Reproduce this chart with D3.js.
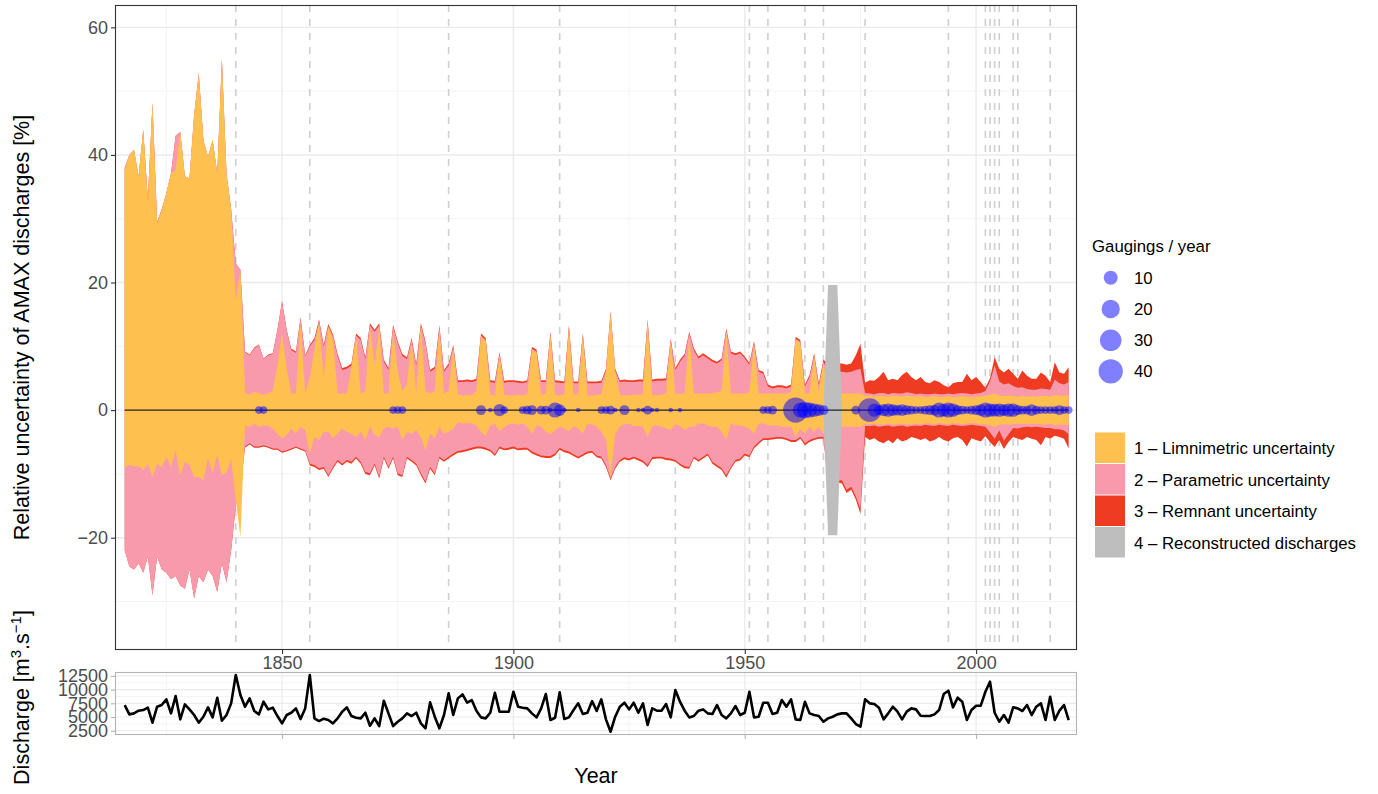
<!DOCTYPE html>
<html><head><meta charset="utf-8">
<script src="https://cdn.jsdelivr.net/npm/d3@7/dist/d3.min.js"></script>
<style>body{margin:0;background:#fff;} svg{display:block;font-family:"Liberation Sans",Arial,sans-serif;}</style>
</head><body><svg id="c" width="1378" height="794"></svg>
<script>
// ---------------- DATA (one value per year, 1816 .. 2020) ----------------
const firstYear = 1816;

const limUpper = [
 37.6, 40.0, 40.8, 36.6,
 43.9, 32.4, 48.1, 29.0, 31.3, 34.0, 37.1, 37.6, 43.6, 36.6,
 36.3, 46.2, 52.5, 42.3, 39.7, 42.3, 37.1, 54.9, 37.0, 31.3,
 17.2, 21.9, 2.7, 2.4, 2.9, 2.6, 2.4, 2.6, 3.0, 7.0,
 12.0, 6.5, 2.6, 2.6, 13.5, 2.6, 5.0, 9.5, 13.8, 5.0,
 13.1, 11.0, 2.6, 2.6, 2.6, 6.8, 11.5, 2.6, 3.0, 13.1,
 7.0, 13.1, 2.6, 2.6, 12.3, 6.0, 3.0, 4.0, 10.8, 2.6,
 13.1, 3.0, 2.6, 3.0, 12.8, 2.6, 3.0, 9.7, 2.4, 2.3,
 2.4, 2.3, 3.0, 11.5, 10.8, 2.4, 2.3, 8.6, 2.4, 2.3,
 2.3, 2.4, 2.3, 2.5, 9.4, 9.0, 2.4, 2.6, 11.8, 2.4,
 2.3, 2.5, 12.8, 2.4, 2.5, 11.5, 2.3, 2.3, 2.4, 2.5,
 6.0, 15.0, 6.0, 2.4, 2.3, 2.3, 2.4, 2.4, 2.5, 13.7,
 2.4, 2.3, 2.4, 2.6, 10.7, 2.5, 2.6, 2.6, 11.8, 2.6,
 2.6, 2.6, 2.6, 2.6, 2.8, 3.0, 12.3, 2.6, 2.6, 2.6,
 2.6, 2.8, 10.4, 2.6, 2.6, 2.6, 2.6, 2.6, 2.6, 2.6,
 2.8, 11.0, 10.5, 2.6, 2.6, 8.4, 2.8, 7.5, 2.6, 2.6,
 2.6, 2.6, 2.6, 2.6, 2.6, 2.6, 2.3, 2.2, 2.1, 2.3,
 2.2, 2.1, 2.3, 2.2, 2.1, 2.3, 2.2, 2.1, 2.2, 2.0,
 2.1, 2.2, 2.0, 2.1, 2.2, 2.0, 2.1, 2.2, 2.1, 2.0,
 2.1, 2.2, 2.2, 2.4, 2.6, 2.3, 2.2, 2.3, 2.2, 2.1,
 2.2, 2.1, 2.2, 2.1, 2.2, 2.3, 2.1, 2.4, 2.3, 2.2,
 2.4
];
const limLower = [
 -8.9, -8.6, -8.8, -8.8,
 -9.4, -8.4, -10.5, -8.4, -8.9, -7.3, -8.9, -6.3, -10.2, -8.1,
 -8.6, -10.5, -10.5, -11.0, -7.6, -9.9, -7.0, -10.2, -9.8, -7.6,
 -14.0, -19.9, -2.4, -2.6, -2.1, -2.6, -2.4, -2.4, -2.9, -3.7,
 -4.4, -3.9, -2.9, -3.7, -2.6, -3.1, -6.8, -4.2, -4.7, -3.4,
 -3.4, -4.4, -3.7, -2.9, -3.4, -3.7, -4.2, -3.4, -4.7, -2.6,
 -3.9, -4.2, -2.9, -2.6, -2.9, -2.6, -4.7, -3.4, -3.7, -3.1,
 -4.2, -6.3, -3.7, -4.4, -2.6, -3.7, -3.4, -2.9, -1.9, -2.1,
 -2.0, -2.1, -2.4, -3.4, -4.1, -2.4, -2.1, -3.3, -2.7, -2.2,
 -2.1, -2.3, -2.1, -2.6, -3.7, -2.4, -2.6, -3.4, -3.8, -3.1,
 -2.6, -2.9, -3.3, -2.5, -2.9, -3.7, -2.2, -2.2, -2.6, -3.4,
 -4.7, -10.4, -3.7, -2.6, -2.2, -2.1, -2.5, -2.5, -2.6, -4.2,
 -2.5, -2.4, -2.6, -2.9, -3.1, -2.2, -2.5, -3.1, -2.6, -2.6,
 -2.1, -2.1, -2.4, -2.6, -2.6, -3.4, -4.7, -2.1, -2.4, -2.4,
 -2.6, -2.9, -3.7, -2.1, -2.1, -2.4, -2.4, -2.4, -2.6, -2.6,
 -2.6, -4.2, -2.9, -3.7, -2.6, -3.4, -2.6, -3.7, -2.6, -2.6,
 -2.6, -2.6, -2.6, -2.6, -2.6, -2.6, -2.2, -2.2, -2.1, -2.3,
 -2.2, -2.1, -2.3, -2.2, -2.1, -2.3, -2.2, -2.1, -2.2, -2.0,
 -2.1, -2.2, -2.0, -2.1, -2.2, -2.0, -2.1, -2.2, -2.1, -2.0,
 -2.1, -2.2, -2.2, -2.4, -2.6, -2.3, -2.2, -2.3, -2.2, -2.1,
 -2.2, -2.1, -2.2, -2.1, -2.2, -2.3, -2.1, -2.4, -2.3, -2.2,
 -2.4
];
const parUpper = [
 38.0, 40.0, 40.8, 36.6,
 43.9, 33.0, 48.1, 29.5, 31.5, 34.0, 37.1, 43.0, 43.6, 36.6,
 36.3, 46.2, 52.8, 42.3, 39.7, 42.3, 37.1, 54.9, 37.0, 31.5,
 23.0, 22.0, 9.1, 8.6, 9.7, 10.2, 8.0, 8.6, 8.8, 12.5,
 17.0, 12.5, 9.4, 9.0, 14.4, 8.4, 10.0, 11.0, 13.9, 10.0,
 13.2, 11.6, 8.5, 6.3, 6.5, 7.0, 11.7, 11.0, 8.0, 13.3,
 12.3, 13.3, 7.6, 6.3, 13.1, 10.5, 8.5, 8.0, 11.0, 7.0,
 13.3, 10.5, 6.0, 6.5, 13.0, 6.0, 7.0, 9.9, 4.4, 4.4,
 4.5, 4.4, 4.6, 11.7, 11.0, 4.4, 4.3, 8.8, 4.3, 4.4,
 4.4, 4.3, 4.2, 4.4, 9.6, 9.2, 4.4, 4.4, 12.0, 4.4,
 4.3, 4.2, 13.0, 4.2, 4.2, 11.7, 4.2, 4.2, 4.2, 4.3,
 6.2, 15.2, 6.2, 4.4, 4.5, 4.4, 4.4, 4.5, 4.5, 13.9,
 4.5, 4.6, 4.6, 4.7, 10.9, 6.3, 7.6, 8.5, 12.0, 9.4,
 8.1, 8.6, 8.1, 7.6, 7.3, 7.8, 12.5, 8.9, 8.6, 8.9,
 8.1, 7.1, 10.5, 6.0, 5.7, 3.7, 3.4, 3.6, 3.6, 3.4,
 3.7, 11.2, 10.7, 3.7, 5.2, 8.6, 3.9, 7.6, 6.0, 6.0,
 6.0, 6.0, 5.9, 6.0, 6.3, 6.5, 2.7, 2.6, 2.5, 2.7,
 2.7, 2.5, 2.7, 2.6, 2.6, 2.8, 2.7, 2.5, 2.6, 2.5,
 2.5, 2.6, 2.5, 2.5, 2.6, 2.5, 2.6, 2.7, 2.6, 2.5,
 2.6, 2.7, 3.0, 4.5, 7.0, 4.5, 4.0, 4.2, 3.8, 3.5,
 3.6, 3.3, 3.2, 3.2, 3.4, 3.3, 3.2, 4.8, 4.2, 4.0,
 4.4
];
const parLower = [
 -22.0, -24.5, -25.0, -24.0,
 -25.5, -23.0, -29.0, -23.0, -25.0, -25.5, -26.5, -26.0, -27.5, -28.0,
 -25.0, -29.5, -26.0, -27.0, -25.0, -26.0, -28.5, -24.0, -27.0, -22.0,
 -15.0, -12.0, -5.7, -5.2, -5.7, -5.7, -5.5, -5.7, -6.0, -6.0,
 -6.5, -6.3, -6.0, -5.7, -6.0, -6.3, -8.4, -8.6, -9.1, -8.9,
 -10.2, -8.9, -7.8, -8.4, -7.8, -8.1, -7.3, -8.1, -9.7, -9.9,
 -8.4, -10.4, -7.3, -8.9, -7.3, -9.9, -10.2, -7.3, -7.8, -8.4,
 -9.9, -11.2, -8.9, -9.9, -7.3, -7.8, -7.3, -6.8, -6.4, -6.3,
 -6.1, -5.9, -5.7, -5.7, -5.9, -6.2, -6.9, -5.7, -6.0, -5.9,
 -5.7, -6.0, -5.9, -5.9, -6.5, -6.8, -7.1, -7.2, -7.2, -6.8,
 -5.9, -6.3, -6.5, -6.9, -7.3, -6.9, -6.5, -6.4, -7.1, -7.3,
 -8.6, -10.7, -8.9, -7.8, -7.4, -7.6, -7.3, -7.6, -7.9, -8.6,
 -7.4, -7.3, -7.3, -7.5, -7.6, -7.8, -8.4, -8.8, -8.9, -7.3,
 -7.8, -7.3, -6.8, -8.1, -8.6, -9.1, -10.2, -8.9, -7.8, -7.6,
 -6.8, -7.1, -5.7, -5.0, -4.4, -4.4, -4.3, -4.2, -4.2, -4.4,
 -4.7, -4.7, -4.2, -5.2, -4.7, -4.4, -4.2, -4.2, -11.0, -11.0,
 -11.0, -11.0, -12.5, -12.0, -13.5, -15.5, -2.5, -2.5, -2.4, -2.6,
 -2.5, -2.4, -2.6, -2.5, -2.4, -2.6, -2.5, -2.4, -2.5, -2.3,
 -2.4, -2.5, -2.3, -2.4, -2.5, -2.3, -2.4, -2.5, -2.4, -2.3,
 -2.4, -2.5, -2.6, -3.5, -4.5, -3.2, -4.8, -3.8, -2.8, -2.9,
 -2.7, -2.6, -2.7, -2.6, -2.7, -2.8, -2.8, -3.0, -3.0, -3.2,
 -3.8
];
const remUpper = [
 38.0, 40.0, 40.8, 36.6,
 43.9, 33.0, 48.1, 29.5, 31.5, 34.0, 37.1, 43.0, 43.6, 36.6,
 36.3, 46.2, 52.8, 42.3, 39.7, 42.3, 37.1, 54.9, 37.0, 31.5,
 23.0, 22.0, 9.2, 8.7, 9.8, 10.3, 8.1, 8.7, 8.9, 12.6,
 17.1, 12.6, 9.6, 9.2, 14.6, 8.6, 10.2, 11.3, 14.2, 10.3,
 13.5, 11.9, 8.8, 6.6, 6.8, 7.3, 12.0, 11.3, 8.3, 13.6,
 12.6, 13.6, 7.9, 6.6, 13.4, 10.8, 8.8, 8.3, 11.3, 7.3,
 13.6, 10.8, 6.3, 6.8, 13.3, 6.3, 7.3, 10.2, 4.7, 4.7,
 4.8, 4.7, 4.9, 12.0, 11.3, 4.7, 4.6, 9.1, 4.6, 4.7,
 4.7, 4.6, 4.5, 4.7, 9.9, 9.5, 4.7, 4.7, 12.3, 4.7,
 4.6, 4.5, 13.3, 4.5, 4.5, 12.0, 4.5, 4.5, 4.5, 4.6,
 6.5, 15.5, 6.5, 4.7, 4.8, 4.7, 4.7, 4.8, 4.8, 14.2,
 4.8, 4.9, 4.9, 5.0, 11.2, 6.6, 7.9, 8.8, 12.3, 9.7,
 8.4, 8.9, 8.4, 7.9, 7.6, 8.1, 12.8, 9.2, 8.9, 9.2,
 8.4, 7.4, 10.8, 6.3, 6.0, 4.0, 3.7, 3.9, 3.9, 3.7,
 4.0, 11.5, 11.0, 4.0, 5.5, 8.9, 4.2, 7.9, 7.3, 7.3,
 7.3, 7.3, 7.1, 7.3, 8.6, 10.4, 4.3, 4.7, 4.6, 5.2,
 6.0, 4.7, 4.9, 4.7, 5.5, 6.0, 5.2, 4.7, 5.2, 4.4,
 4.2, 4.7, 4.4, 3.9, 3.6, 4.2, 4.4, 4.4, 5.7, 4.7,
 5.2, 4.4, 3.5, 5.0, 8.3, 6.5, 5.9, 6.5, 5.7, 4.9,
 6.2, 5.4, 4.9, 4.9, 5.9, 5.4, 4.4, 7.5, 5.9, 5.7,
 6.7
];
const remLower = [
 -22.0, -24.5, -25.0, -24.0,
 -25.5, -23.0, -29.0, -23.0, -25.0, -25.5, -26.5, -26.0, -27.5, -28.0,
 -25.0, -29.5, -26.0, -27.0, -25.0, -26.0, -28.5, -24.0, -27.0, -22.0,
 -15.0, -12.0, -5.9, -5.4, -5.9, -5.9, -5.7, -5.9, -6.2, -6.2,
 -6.7, -6.5, -6.2, -5.9, -6.2, -6.5, -8.7, -8.9, -9.4, -9.2,
 -10.5, -9.2, -8.1, -8.7, -8.1, -8.4, -7.6, -8.4, -10.0, -10.2,
 -8.7, -10.7, -7.6, -9.2, -7.6, -10.2, -10.5, -7.6, -8.1, -8.7,
 -10.2, -11.5, -9.2, -10.2, -7.6, -8.1, -7.6, -7.1, -6.7, -6.6,
 -6.4, -6.2, -6.0, -6.0, -6.2, -6.5, -7.2, -6.0, -6.3, -6.2,
 -6.0, -6.3, -6.2, -6.2, -6.8, -7.1, -7.4, -7.5, -7.5, -7.1,
 -6.2, -6.6, -6.8, -7.2, -7.6, -7.2, -6.8, -6.7, -7.4, -7.6,
 -8.9, -11.0, -9.2, -8.1, -7.7, -7.9, -7.6, -7.9, -8.2, -8.9,
 -7.7, -7.6, -7.6, -7.8, -7.9, -8.1, -8.7, -9.1, -9.2, -7.6,
 -8.1, -7.6, -7.1, -8.4, -8.9, -9.4, -10.6, -9.2, -8.1, -7.9,
 -7.1, -7.4, -6.0, -5.3, -4.7, -4.7, -4.6, -4.5, -4.5, -4.7,
 -5.0, -5.0, -4.5, -5.5, -5.0, -4.7, -4.5, -4.5, -11.3, -11.3,
 -11.3, -11.5, -13.0, -12.5, -14.0, -16.3, -4.2, -4.7, -4.4, -4.9,
 -5.2, -4.7, -5.2, -4.4, -4.9, -4.7, -4.2, -4.4, -4.7, -4.4,
 -4.9, -4.7, -4.2, -4.7, -4.9, -4.4, -4.2, -4.7, -5.7, -4.4,
 -4.7, -4.9, -4.1, -5.0, -5.8, -4.7, -6.1, -5.0, -4.2, -4.5,
 -4.7, -4.2, -4.5, -4.7, -5.5, -4.2, -4.5, -4.0, -4.2, -4.5,
 -6.0
];
const discharge = [
 7180, 5480, 5660, 6150,
 6270, 6700, 3960, 6880, 7180, 8220, 5660, 8820, 4570, 7300,
 6390, 5360, 3960, 5050, 6760, 4930, 8520, 4320, 5360, 7490,
 12650, 9010, 6880, 8400, 6090, 5480, 7790, 6390, 6700, 5180,
 3840, 5360, 5780, 6570, 4630, 6570, 12650, 4750, 4260, 4690,
 4450, 3840, 4750, 5970, 6760, 5180, 4870, 4750, 5780, 3410,
 4750, 3350, 7970, 5660, 3350, 4140, 4750, 5660, 5180, 5780,
 3840, 2930, 7670, 5050, 2930, 5360, 9310, 5360, 8400, 9130,
 7610, 8090, 6150, 4930, 4750, 5780, 9430, 5970, 5970, 5970,
 9610, 6880, 6700, 6570, 5660, 4930, 6570, 9190, 4450, 4870,
 9490, 4630, 4930, 6270, 7490, 5540, 5780, 7900, 6100, 8220,
 4570, 2320, 5050, 6880, 7610, 6390, 7610, 5780, 7490, 3530,
 6570, 6150, 6150, 7360, 4930, 9920, 7790, 6150, 4930, 5180,
 6150, 6390, 5660, 5540, 7180, 5360, 4750, 5660, 7000, 5360,
 5780, 9610, 4930, 5050, 7610, 7610, 5540, 5780, 8090, 6880,
 8220, 4570, 4450, 7790, 5660, 5360, 5180, 4140, 4750, 5050,
 5480, 5660, 5660, 4750, 3720, 3230, 8220, 7490, 7360, 6700,
 4570, 5660, 6880, 5970, 4570, 5970, 6570, 6390, 5240, 5180,
 5180, 5480, 6270, 9190, 9800, 6760, 8520, 7790, 4450, 6270,
 7060, 7060, 9610, 11440, 5780, 4140, 5360, 3960, 6760, 6570,
 6090, 7180, 5360, 6880, 7490, 4450, 8700, 4450, 6150, 7180,
 4450
];
// reconstructed discharges (grey band)
const reconYears = [1967, 1968, 1969, 1970, 1971];
const reconHalfWidth = [0, 19.6, 19.6, 19.6, 0];
// gaugings per year
const gaugingYears = [1845,1846,1874,1875,1876,1893,1895,1897,1898,1902,1903,1904,1906,1907,1908,1909,1910,1911,1914,1919,1920,1921,1922,1924,1927,1928,1929,1930,1931,1934,1936,1954,1955,1956,1961,1962,1963,1964,1965,1966,1967,1974,1977,1978,1979,1980,1981,1982,1983,1984,1985,1986,1987,1988,1989,1990,1991,1992,1993,1994,1995,1996,1997,1998,1999,2000,2001,2002,2003,2004,2005,2006,2007,2008,2009,2010,2011,2012,2013,2014,2015,2016,2017,2018,2019,2020];
const gaugingCounts = [2,2,2,2,2,4,1,7,2,2,3,4,3,3,1,12,6,1,1,2,2,3,1,4,1,1,3,1,1,1,1,2,2,3,43,12,15,12,9,6,4,3,37,9,4,7,9,6,5,6,4,3,2,2,3,4,5,12,8,12,9,4,3,2,3,4,6,12,9,8,9,6,9,9,4,3,3,6,3,2,2,2,2,4,2,2];
// rating-curve shift dates (dashed lines)
const shiftYears = [1840,1856,1886,1910,1935,1951,1955,1963,1967,1976,1994,2002,2003,2004,2005,2008,2009,2016];
// axis ticks / legend
const xTicks = [1850, 1900, 1950, 2000];
const xMinor = [1825, 1875, 1925, 1975];
const yTicks = [-20, 0, 20, 40, 60];
const yMinor = [-30, -10, 10, 30, 50];
const qTicks = [2500, 5000, 7500, 10000, 12500];
const qMinor = [3750, 6250, 8750, 11250];
const sizeLegend = [10, 20, 30, 40];
const fillLegend = ["1 \u2013 Limnimetric uncertainty", "2 \u2013 Parametric uncertainty", "3 \u2013 Remnant uncertainty", "4 \u2013 Reconstructed discharges"];
const fillColors = ["#FEC150", "#F89AAB", "#EE3B22", "#BEBEBE"];

// ---------------- DRAWING ----------------
const FONT = "Liberation Sans, Arial, sans-serif";
const svg = d3.select("#c");
const P = {l:115, r:1077, t:5, b:650};
const Q = {t:672, b:735};
const x = d3.scaleLinear().domain([1813.9, 2021.8]).range([P.l, P.r]);
const y = d3.scaleLinear().domain([-37.6, 63.5]).range([P.b, P.t]);
const yq = d3.scaleLinear().domain([1715, 13212]).range([Q.b, Q.t]);
const sizeNorm = d3.scaleLinear().domain([1, 45]).range([0, 1]).clamp(true);
const rad = v => 2.25 + 10.5 * Math.sqrt(sizeNorm(v));

const data = limUpper.map((v, i) => ({
  year: firstYear + i, lu: v, ll: limLower[i], pu: parUpper[i], pl: parLower[i],
  ru: remUpper[i], rl: remLower[i], q: discharge[i]
}));

const gridMaj = "#EBEBEB", gridMin = "#F4F4F4";
// main panel background + grid
const gMain = svg.append("g");
gMain.append("rect").attr("x",P.l).attr("y",P.t).attr("width",P.r-P.l).attr("height",P.b-P.t).attr("fill","#fff");
yMinor.forEach(v => gMain.append("line").attr("x1",P.l).attr("x2",P.r).attr("y1",y(v)).attr("y2",y(v)).attr("stroke",gridMin).attr("stroke-width",1));
xMinor.forEach(v => gMain.append("line").attr("y1",P.t).attr("y2",P.b).attr("x1",x(v)).attr("x2",x(v)).attr("stroke",gridMin).attr("stroke-width",1));
yTicks.forEach(v => gMain.append("line").attr("x1",P.l).attr("x2",P.r).attr("y1",y(v)).attr("y2",y(v)).attr("stroke",gridMaj).attr("stroke-width",1.4));
xTicks.forEach(v => gMain.append("line").attr("y1",P.t).attr("y2",P.b).attr("x1",x(v)).attr("x2",x(v)).attr("stroke",gridMaj).attr("stroke-width",1.4));
// dashed shift lines
shiftYears.forEach(v => gMain.append("line").attr("y1",P.t).attr("y2",P.b).attr("x1",x(v)).attr("x2",x(v))
  .attr("stroke","#CFCFCF").attr("stroke-width",1.6).attr("stroke-dasharray","7,7"));

// uncertainty bands
const band = (lo, hi) => d3.area().x(d => x(d.year)).y0(d => y(d[lo])).y1(d => y(d[hi]));
gMain.append("path").datum(data).attr("d", band("rl","ru")).attr("fill", fillColors[2]);
gMain.append("path").datum(data).attr("d", band("pl","pu")).attr("fill", fillColors[1]);
gMain.append("path").datum(data).attr("d", band("ll","lu")).attr("fill", fillColors[0]);
// reconstructed band
const recon = reconYears.map((yr, i) => ({year: yr, h: reconHalfWidth[i]}));
gMain.append("path").datum(recon).attr("d", d3.area().x(d => x(d.year)).y0(d => y(-d.h)).y1(d => y(d.h))).attr("fill", fillColors[3]);
// zero line
gMain.append("path").datum(data).attr("d", d3.line().x(d => x(d.year)).y(() => y(0)))
  .attr("stroke","#222").attr("stroke-width",1.1).attr("fill","none");
// gaugings
gaugingYears.forEach((yr, i) => gMain.append("circle").attr("cx", x(yr)).attr("cy", y(0))
  .attr("r", rad(gaugingCounts[i])).attr("fill","#0000FF").attr("fill-opacity",0.5));
// border
gMain.append("rect").attr("x",P.l+0.5).attr("y",P.t+0.5).attr("width",P.r-P.l-1).attr("height",P.b-P.t-1)
  .attr("fill","none").attr("stroke","#333").attr("stroke-width",1.1);

// main axes
const axY = d3.axisLeft(y).tickValues(yTicks).tickSize(4).tickPadding(3).tickFormat(d => d < 0 ? "\u2212" + Math.abs(d) : d);
const gy = svg.append("g").attr("transform",`translate(${P.l},0)`).call(axY);
const axX = d3.axisBottom(x).tickValues(xTicks).tickSize(4).tickPadding(3).tickFormat(d3.format("d"));
const gx = svg.append("g").attr("transform",`translate(0,${P.b})`).call(axX);
[gy, gx].forEach(g => {
  g.select(".domain").remove();
  g.selectAll(".tick line").attr("stroke","#333").attr("stroke-width",1.1);
  g.selectAll(".tick text").attr("fill","#4D4D4D").style("font-size","18px").style("font-family",FONT);
});
gx.selectAll(".tick text").attr("dy","0.65em");

// ---------------- discharge panel ----------------
const gQ = svg.append("g");
gQ.append("rect").attr("x",P.l).attr("y",Q.t).attr("width",P.r-P.l).attr("height",Q.b-Q.t).attr("fill","#fff");
qMinor.forEach(v => gQ.append("line").attr("x1",P.l).attr("x2",P.r).attr("y1",yq(v)).attr("y2",yq(v)).attr("stroke",gridMin).attr("stroke-width",1));
xMinor.forEach(v => gQ.append("line").attr("y1",Q.t).attr("y2",Q.b).attr("x1",x(v)).attr("x2",x(v)).attr("stroke",gridMin).attr("stroke-width",1));
qTicks.forEach(v => gQ.append("line").attr("x1",P.l).attr("x2",P.r).attr("y1",yq(v)).attr("y2",yq(v)).attr("stroke",gridMaj).attr("stroke-width",1.2));
xTicks.forEach(v => gQ.append("line").attr("y1",Q.t).attr("y2",Q.b).attr("x1",x(v)).attr("x2",x(v)).attr("stroke",gridMaj).attr("stroke-width",1.2));
gQ.append("path").datum(data).attr("d", d3.line().x(d => x(d.year)).y(d => yq(d.q)))
  .attr("fill","none").attr("stroke","#000").attr("stroke-width",2.6).attr("stroke-linejoin","round");
gQ.append("rect").attr("x",P.l+0.5).attr("y",Q.t+0.5).attr("width",P.r-P.l-1).attr("height",Q.b-Q.t-1)
  .attr("fill","none").attr("stroke","#B3B3B3").attr("stroke-width",1.1);
const gqy = svg.append("g").attr("transform",`translate(${P.l},0)`).call(d3.axisLeft(yq).tickValues(qTicks).tickSize(4).tickPadding(3).tickFormat(d3.format("d")));
const gqx = svg.append("g").attr("transform",`translate(0,${Q.b})`).call(d3.axisBottom(x).tickValues(xTicks).tickSize(4).tickFormat(""));
[gqy, gqx].forEach(g => {
  g.select(".domain").remove();
  g.selectAll(".tick line").attr("stroke","#B3B3B3").attr("stroke-width",1.1);
  g.selectAll(".tick text").attr("fill","#4D4D4D").style("font-size","18px").style("font-family",FONT);
});

// ---------------- titles ----------------
svg.append("text").attr("transform",`translate(29,${(P.t+P.b)/2}) rotate(-90)`).attr("text-anchor","middle")
  .style("font-size","21.5px").attr("fill","#000").text("Relative uncertainty of AMAX discharges [%]");
const qt = svg.append("text").attr("transform",`translate(29,${(Q.t+Q.b)/2 - 6}) rotate(-90)`).attr("text-anchor","middle")
  .style("font-size","21.5px").attr("fill","#000");
qt.append("tspan").text("Discharge [m");
qt.append("tspan").attr("dy","-8").style("font-size","15px").text("3");
qt.append("tspan").attr("dy","8").text(".s");
qt.append("tspan").attr("dy","-8").style("font-size","15px").text("\u22121");
qt.append("tspan").attr("dy","8").text("]");
svg.append("text").attr("x",(P.l+P.r)/2).attr("y",783).attr("text-anchor","middle").style("font-size","21.5px").text("Year");

// ---------------- legends ----------------
const lg = svg.append("g");
lg.append("text").attr("x",1092).attr("y",252).style("font-size","16.8px").text("Gaugings / year");
const sizeY = [277.7, 309, 340.3, 371.3];
sizeLegend.forEach((v, i) => {
  lg.append("circle").attr("cx",1110.7).attr("cy",sizeY[i]).attr("r",rad(v)).attr("fill","#0000FF").attr("fill-opacity",0.5);
  lg.append("text").attr("x",1134).attr("y",sizeY[i]+6).style("font-size","16.8px").text(v);
});
const boxY = [432.5, 464, 495.5, 527];
fillLegend.forEach((t, i) => {
  lg.append("rect").attr("x",1095).attr("y",boxY[i]).attr("width",30).attr("height",30.5).attr("fill",fillColors[i]);
  lg.append("text").attr("x",1134).attr("y",boxY[i]+21.5).style("font-size","16.8px").text(t);
});
</script></body></html>
